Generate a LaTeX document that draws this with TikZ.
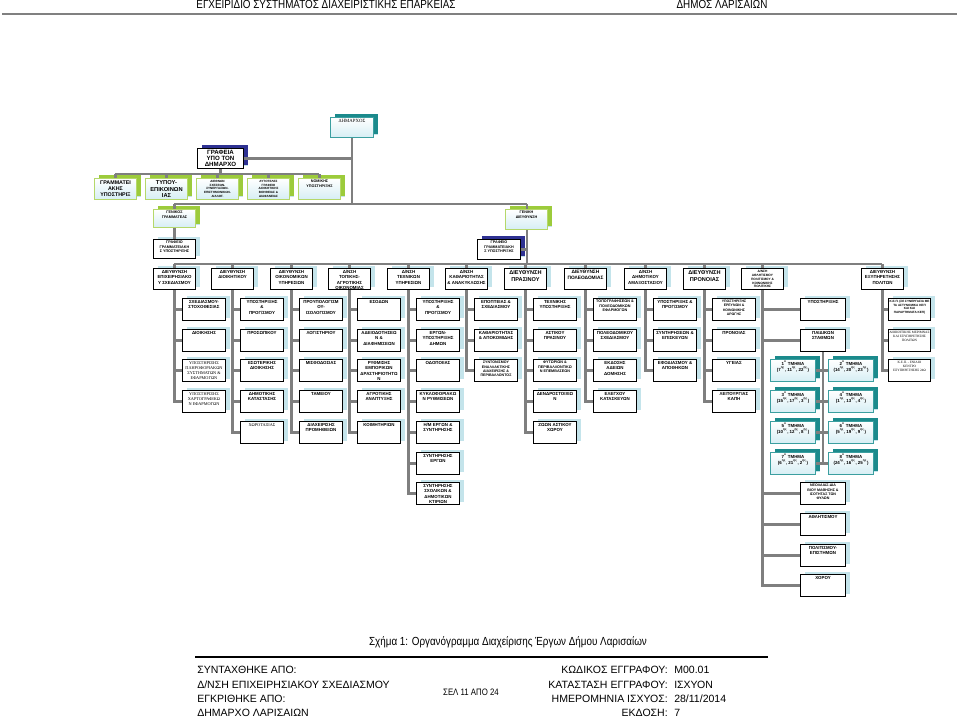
\documentclass[tikz,border=0pt]{standalone}
\usepackage{fontspec}
\setmainfont{Liberation Sans}
\newfontfamily\srf{Liberation Serif}
\newfontfamily\nrw[FakeStretch=0.84]{Liberation Sans}
\usetikzlibrary{shadows}
\definecolor{conncol}{HTML}{7F7F7F}
\definecolor{shblue}{HTML}{C4E4EB}
\definecolor{navy}{HTML}{2E3192}
\definecolor{teal2}{HTML}{1B8A8C}
\definecolor{tealb}{HTML}{3B9FA0}
\definecolor{lime2}{HTML}{9CCB3B}
\definecolor{limeb}{HTML}{B5D86A}
\definecolor{lfill}{HTML}{D6EEF4}
\newcommand\bt[3]{\vbox to #2{\vskip0.9pt\hbox to #1{\hss\begin{tabular}[t]{@{}c@{}}#3\end{tabular}\hss}\vss}}
\newcommand\fs[2]{\fontsize{#1}{#2}\selectfont}
\tikzset{
 conn/.style={draw=conncol, line width=2pt},
 ubox/.style={draw=black, line width=0.75pt, fill=white, inner sep=0pt, anchor=north west,
   font=\fs{3.3}{4}\bfseries,
   drop shadow={shadow xshift=3.5pt, shadow yshift=2.2pt, fill=shblue, opacity=1}},
 serif/.style={font=\fs{3.2}{3.9}\srf},
 navysh/.style={drop shadow={shadow xshift=3.5pt, shadow yshift=3pt, fill=navy, opacity=1}},
 greenbox/.style={draw=limeb, top color=white, bottom color=lfill,
   drop shadow={shadow xshift=3pt, shadow yshift=2.5pt, fill=lime2, opacity=1}},
 tealbox/.style={draw=tealb, top color=white, bottom color=lfill,
   drop shadow={shadow xshift=3.5pt, shadow yshift=2.5pt, fill=teal2, opacity=1}},
 foot/.style={font=\fs{7.9}{9}, inner sep=0pt},
}
% sub box: [style]{name}{left}{top}{text}
\newcommand\sbx[5][]{\node[ubox,#1] (#2) at (#3,#4) {\bt{32.25pt}{16.5pt}{#5}};}
% directorate: [style]{name}{center}{text}
\newcommand\dbx[4][]{\node[ubox,#1] (#2) at ({#3-21},268) {\bt{31.5pt}{15.75pt}{#4}};}
\newcommand\kid[2]{\draw[conn] (#1.south |- #2.west) -- (#2.west);}
\newcommand\spine[2]{\draw[conn] (#1.south) |- (#2.west);}
\begin{document}
\begin{tikzpicture}[x=0.75pt,y=-0.75pt]
\useasboundingbox (0,0) rectangle (959,717);
\fill[white] (0,0) rectangle (959,717);
% header
\node[font=\fs{8.8}{10}\nrw, inner sep=0pt, anchor=base] (h1) at (326,9) {ΕΓΧΕΙΡΙΔΙΟ ΣΥΣΤΗΜΑΤΟΣ ΔΙΑΧΕΙΡΙΣΤΙΚΗΣ ΕΠΑΡΚΕΙΑΣ};
\node[font=\fs{8.8}{10}\nrw, inner sep=0pt, anchor=base] (h2) at (722,9) {ΔΗΜΟΣ ΛΑΡΙΣΑΙΩΝ};
\coordinate (hl1) at (2,14); \coordinate (hl2) at (957,14);
\draw[draw=gray, line width=1pt] (hl1) -- (hl2);

% top
\node[ubox, tealbox, font=\fs{3.6}{4.2}\srf] (dim) at (330,117) {\bt{32.25pt}{15pt}{ΔΗΜΑΡΧΟΣ}};
\node[ubox, navysh, font=\fs{4.6}{4.8}\bfseries] (graf) at (197,148) {\bt{34.5pt}{15pt}{ΓΡΑΦΕΙΑ\\ΥΠΟ ΤΟΝ\\ΔΗΜΑΡΧΟ}};
\node[ubox, greenbox, font=\fs{4}{4.8}\bfseries] (g1) at (94,178) {\bt{31.5pt}{15.75pt}{ΓΡΑΜΜΑΤΕΙ\\ΑΚΗΣ\\ΥΠΟΣΤΗΡΙΞ}};
\node[ubox, greenbox, font=\fs{4.3}{5}\bfseries] (g2) at (145,178) {\bt{31.5pt}{15.75pt}{ΤΥΠΟΥ-\\ΕΠΙΚΟΙΝΩΝ\\ΙΑΣ}};
\node[ubox, greenbox, font=\fs{2.3}{2.8}\bfseries] (g3) at (196,178) {\bt{31.5pt}{15.75pt}{ΔΙΕΘΝΩΝ\\ΣΧΕΣΕΩΝ-\\ΣΥΝΕΡΓΑΣΙΩΝ-\\ΕΠΙΣΤΗΜΟΝΙΚΩΝ-\\ΔΙΑΛΟΓ.}};
\node[ubox, greenbox, font=\fs{2.3}{2.8}\bfseries] (g4) at (247,178) {\bt{31.5pt}{15.75pt}{ΑΥΤΟΤΕΛΕΣ\\ΓΡΑΦΕΙΟ\\ΔΙΟΙΚΗΤΙΚΗΣ\\ΒΟΗΘΕΙΑΣ \&\\ΔΙΑΦΑΝΕΙΑΣ}};
\node[ubox, greenbox, font=\fs{2.8}{3.4}\bfseries] (g5) at (298,178) {\bt{31.5pt}{15.75pt}{ΝΟΜΙΚΗΣ\\ΥΠΟΣΤΗΡΙΞΗΣ}};
\node[ubox, greenbox, font=\fs{2.8}{3.4}\bfseries] (gg) at (153,209) {\bt{31.5pt}{13.5pt}{ΓΕΝΙΚΟΣ\\ΓΡΑΜΜΑΤΕΑΣ}};
\node[ubox, greenbox, font=\fs{2.8}{3.4}\bfseries] (gd) at (505,209) {\bt{31.5pt}{15pt}{ΓΕΝΙΚΗ\\ΔΙΕΥΘΥΝΣΗ}};
\node[ubox, font=\fs{2.8}{3.4}\bfseries] (gr1) at (153,239) {\bt{31.5pt}{14.25pt}{ΓΡΑΦΕΙΟ\\ΓΡΑΜΜΑΤΕΙΑΚΗ\\Σ ΥΠΟΣΤΗΡΙΞΗΣ}};
\node[ubox, navysh, font=\fs{2.8}{3.4}\bfseries] (gr2) at (477,239) {\bt{32.25pt}{15pt}{ΓΡΑΦΕΙΟ\\ΓΡΑΜΜΑΤΕΙΑΚΗ\\Σ ΥΠΟΣΤΗΡΙΞΗΣ}};

\coordinate (b0L) at (174,204); \coordinate (b0R) at (527,204);
\coordinate (b2L) at (115,174); \coordinate (b2R) at (319,174);
\coordinate (b1L) at (174,264); \coordinate (b1R) at (882,264);

% directorates
\dbx{d0}{174}{ΔΙΕΥΘΥΝΣΗ\\ΕΠΙΧΕΙΡΗΣΙΑΚΟ\\Υ ΣΧΕΔΙΑΣΜΟΥ}
\dbx{d1}{232}{ΔΙΕΥΘΥΝΣΗ\\ΔΙΟΙΚΗΤΙΚΟΥ}
\dbx{d2}{291}{ΔΙΕΥΘΥΝΣΗ\\ΟΙΚΟΝΟΜΙΚΩΝ\\ΥΠΗΡΕΣΙΩΝ}
\dbx{d3}{349}{Δ/ΝΣΗ\\ΤΟΠΙΚΗΣ-\\ΑΓΡΟΤΙΚΗΣ\\ΟΙΚΟΝΟΜΙΑΣ}
\dbx{d4}{408}{Δ/ΝΣΗ\\ΤΕΧΝΙΚΩΝ\\ΥΠΗΡΕΣΙΩΝ}
\dbx{d5}{466}{Δ/ΝΣΗ\\ΚΑΘΑΡΙΟΤΗΤΑΣ\\\& ΑΝΑΚΥΚΛΩΣΗΣ}
\dbx[font=\fs{4.2}{5}\bfseries]{d6}{525}{ΔΙΕΥΘΥΝΣΗ\\ΠΡΑΣΙΝΟΥ}
\dbx[font=\fs{3.6}{4.4}\bfseries]{d7}{585}{ΔΙΕΥΘΥΝΣΗ\\ΠΟΛΕΟΔΟΜΙΑΣ}
\dbx{d8}{645}{Δ/ΝΣΗ\\ΔΗΜΟΤΙΚΟΥ\\ΑΜΑΞΟΣΤΑΣΙΟΥ}
\dbx[font=\fs{4.2}{5}\bfseries]{d9}{704}{ΔΙΕΥΘΥΝΣΗ\\ΠΡΟΝΟΙΑΣ}
\dbx[font=\fs{2.4}{2.9}\bfseries]{d10}{762}{Δ/ΝΣΗ\\ΑΘΛΗΤΙΣΜΟΥ\\ΠΟΛΙΤΙΣΜΟΥ \&\\ΚΟΙΝΩΝΙΚΗΣ\\ΠΟΛΙΤΙΚΗΣ}
\dbx{d12}{882}{ΔΙΕΥΘΥΝΣΗ\\ΕΞΥΠΗΡΕΤΗΣΗΣ\\ΠΟΛΙΤΩΝ}

% col 0
\sbx{c0r1}{182}{298}{ΣΧΕΔΙΑΣΜΟΥ-\\ΣΤΟΧΟΘΕΣΙΑΣ}
\sbx{c0r2}{182}{329}{ΔΙΟΙΚΗΣΗΣ}
\sbx[serif]{c0r3}{182}{359}{ΥΠΟΣΤΗΡΙΞΗΣ\\ΠΛΗΡΟΦΟΡΙΑΚΩΝ\\ΣΥΣΤΗΜΑΤΩΝ \&\\ΕΦΑΡΜΟΓΩΝ}
\sbx[serif]{c0r4}{182}{390}{ΥΠΟΣΤΗΡΙΞΗΣ\\ΧΑΡΤΟΓΡΑΦΙΚΩ\\Ν ΕΦΑΡΜΟΓΩΝ}
% col 1
\sbx{c1r1}{240}{298}{ΥΠΟΣΤΗΡΙΞΗΣ\\\&\\ΠΡΟΓ/ΣΜΟΥ}
\sbx{c1r2}{240}{329}{ΠΡΟΣΩΠΙΚΟΥ}
\sbx{c1r3}{240}{359}{ΕΣΩΤΕΡΙΚΗΣ\\ΔΙΟΙΚΗΣΗΣ}
\sbx{c1r4}{240}{390}{ΔΗΜΟΤΙΚΗΣ\\ΚΑΤΑΣΤΑΣΗΣ}
\sbx[serif]{c1r5}{240}{421}{ΧΩΡΟΤΑΞΙΑΣ}
% col 2
\sbx{c2r1}{299}{298}{ΠΡΟΥΠΟΛΟΓΙΣΜ\\ΟΥ-\\ΙΣΟΛΟΓΙΣΜΟΥ}
\sbx{c2r2}{299}{329}{ΛΟΓΙΣΤΗΡΙΟΥ}
\sbx{c2r3}{299}{359}{ΜΙΣΘΟΔΟΣΙΑΣ}
\sbx{c2r4}{299}{390}{ΤΑΜΕΙΟΥ}
\sbx{c2r5}{299}{421}{ΔΙΑΧΕΙΡΙΣΗΣ\\ΠΡΟΜΗΘΕΙΩΝ}
% col 3
\sbx{c3r1}{357}{298}{ΕΣΟΔΩΝ}
\sbx{c3r2}{357}{329}{ΑΔΕΙΟΔΟΤΗΣΕΩ\\Ν \&\\ΔΙΑΦΗΜΙΣΕΩΝ}
\sbx{c3r3}{357}{359}{ΡΥΘΜΙΣΗΣ\\ΕΜΠΟΡΙΚΩΝ\\ΔΡΑΣΤΗΡΙΟΤΗΤΩ\\Ν}
\sbx{c3r4}{357}{390}{ΑΓΡΟΤΙΚΗΣ\\ΑΝΑΠΤΥΞΗΣ}
\sbx{c3r5}{357}{421}{ΚΟΙΜΗΤΗΡΙΩΝ}
% col 4
\sbx{c4r1}{416}{298}{ΥΠΟΣΤΗΡΙΞΗΣ\\\&\\ΠΡΟΓ/ΣΜΟΥ}
\sbx{c4r2}{416}{329}{ΕΡΓΩΝ-\\ΥΠΟΣΤΗΡΙΞΗΣ\\ΔΗΜΩΝ}
\sbx{c4r3}{416}{359}{ΟΔΟΠΟΙΙΑΣ}
\sbx{c4r4}{416}{390}{ΚΥΚΛΟΦΟΡΙΑΚΩ\\Ν ΡΥΘΜΙΣΕΩΝ}
\sbx{c4r5}{416}{421}{Η/Μ ΕΡΓΩΝ \&\\ΣΥΝΤΗΡΗΣΗΣ}
\sbx{c4r6}{416}{452}{ΣΥΝΤΗΡΗΣΗΣ\\ΕΡΓΩΝ}
\sbx{c4r7}{416}{482}{ΣΥΝΤΗΡΗΣΗΣ\\ΣΧΟΛΙΚΩΝ \&\\ΔΗΜΟΤΙΚΩΝ\\ΚΤΙΡΙΩΝ}
% col 5
\sbx{c5r1}{474}{298}{ΕΠΟΠΤΕΙΑΣ \&\\ΣΧΕΔΙΑΣΜΟΥ}
\sbx{c5r2}{474}{329}{ΚΑΘΑΡΙΟΤΗΤΑΣ\\\& ΑΠΟΚΟΜΙΔΗΣ}
\sbx[font=\fs{2.7}{3.3}\bfseries]{c5r3}{474}{359}{ΣΥΝΤΟΝΙΣΜΟΥ\\ΕΝΑΛΛΑΚΤΙΚΗΣ\\ΔΙΑΧΕΙΡΙΣΗΣ \&\\ΠΕΡΙΒΑΛΛΟΝΤΟΣ}
% col 6
\sbx{c6r1}{533}{298}{ΤΕΧΝΙΚΗΣ\\ΥΠΟΣΤΗΡΙΞΗΣ}
\sbx{c6r2}{533}{329}{ΑΣΤΙΚΟΥ\\ΠΡΑΣΙΝΟΥ}
\sbx[font=\fs{2.8}{3.4}\bfseries]{c6r3}{533}{359}{ΦΥΤΩΡΙΩΝ \&\\ΠΕΡΙΒΑΛΛΟΝΤΙΚΩ\\Ν ΕΠΕΜΒΑΣΕΩΝ}
\sbx{c6r4}{533}{390}{ΔΕΝΔΡΟΣΤΟΙΧΙΩ\\Ν}
\sbx{c6r5}{533}{421}{ΖΩΩΝ ΑΣΤΙΚΟΥ\\ΧΩΡΟΥ}
% col 7
\sbx[font=\fs{2.8}{3.4}\bfseries]{c7r1}{593}{298}{ΤΟΠΟΓΡΑΦΗΣΕΩΝ \&\\ΠΟΛΕΟΔΟΜΙΚΩΝ\\ΕΦΑΡΜΟΓΩΝ}
\sbx{c7r2}{593}{329}{ΠΟΛΕΟΔΟΜΙΚΟΥ\\ΣΧΕΔΙΑΣΜΟΥ}
\sbx{c7r3}{593}{359}{ΕΚΔΟΣΗΣ\\ΑΔΕΙΩΝ\\ΔΟΜΗΣΗΣ}
\sbx{c7r4}{593}{390}{ΕΛΕΓΧΟΥ\\ΚΑΤΑΣΚΕΥΩΝ}
% col 8
\sbx{c8r1}{653}{298}{ΥΠΟΣΤΗΡΙΞΗΣ \&\\ΠΡΟΓ/ΣΜΟΥ}
\sbx{c8r2}{653}{329}{ΣΥΝΤΗΡΗΣΕΩΝ \&\\ΕΠΙΣΚΕΥΩΝ}
\sbx{c8r3}{653}{359}{ΕΦΟΔΙΑΣΜΟΥ \&\\ΑΠΟΘΗΚΩΝ}
% col 9
\sbx[font=\fs{2.6}{3.2}\bfseries]{c9r1}{712}{298}{ΥΠΟΣΤΗΡΙΞΗΣ\\ΕΡΕΥΝΩΝ \&\\ΚΟΙΝΩΝΙΚΗΣ\\ΑΡΩΓΗΣ}
\sbx{c9r2}{712}{329}{ΠΡΟΝΟΙΑΣ}
\sbx{c9r3}{712}{359}{ΥΓΕΙΑΣ}
\sbx{c9r4}{712}{390}{ΛΕΙΤΟΥΡΓΙΑΣ\\ΚΑΠΗ}
% col 10
\newcommand\tbx[5][]{\node[ubox,#1] (#2) at (#3,#4) {\bt{33.75pt}{16.5pt}{#5}};}
\tbx{c10r1}{800}{298}{ΥΠΟΣΤΗΡΙΞΗΣ}
\tbx{c10r2}{800}{329}{ΠΑΙΔΙΚΩΝ\\ΣΤΑΘΜΩΝ}
\tbx[font=\fs{2.7}{3.3}\bfseries]{c10r7}{800}{482}{ΝΕΟΛΑΙΑΣ-ΔΙΑ\\ΒΙΟΥ ΜΑΘΗΣΗΣ \&\\ΙΣΟΤΗΤΑΣ ΤΩΝ\\ΦΥΛΩΝ}
\tbx{c10r8}{800}{513}{ΑΘΛΗΤΙΣΜΟΥ}
\tbx{c10r9}{800}{544}{ΠΟΛΙΤΙΣΜΟΥ-\\ΕΠΙΣΤΗΜΩΝ}
\tbx{c10r10}{800}{574}{ΧΟΡΟΥ}
\tbx[tealbox]{t1}{770}{359}{1\textsuperscript{ο} ΤΜΗΜΑ\\(7\textsuperscript{ης}, 11\textsuperscript{ης}, 22\textsuperscript{ης})}
\tbx[tealbox]{t2}{828}{359}{2\textsuperscript{ο} ΤΜΗΜΑ\\(14\textsuperscript{ης}, 20\textsuperscript{ης}, 23\textsuperscript{ης})}
\tbx[tealbox]{t3}{770}{390}{3\textsuperscript{ο} ΤΜΗΜΑ\\(15\textsuperscript{ης}, 17\textsuperscript{ης}, 3\textsuperscript{ης})}
\tbx[tealbox]{t4}{828}{390}{4\textsuperscript{ο} ΤΜΗΜΑ\\(1\textsuperscript{ης}, 13\textsuperscript{ης}, 4\textsuperscript{ης})}
\tbx[tealbox]{t5}{770}{421}{5\textsuperscript{ο} ΤΜΗΜΑ\\(10\textsuperscript{ης}, 12\textsuperscript{ης}, 8\textsuperscript{ης})}
\tbx[tealbox]{t6}{828}{421}{6\textsuperscript{ο} ΤΜΗΜΑ\\(5\textsuperscript{ης}, 19\textsuperscript{ης}, 9\textsuperscript{ης})}
\tbx[tealbox]{t7}{770}{452}{7\textsuperscript{ο} ΤΜΗΜΑ\\(6\textsuperscript{ης}, 21\textsuperscript{ης}, 2\textsuperscript{ης})}
\tbx[tealbox]{t8}{828}{452}{8\textsuperscript{ο} ΤΜΗΜΑ\\(24\textsuperscript{ης}, 16\textsuperscript{ης}, 25\textsuperscript{ης})}
% col 12
\node[ubox, font=\fs{2.3}{2.8}\bfseries] (c12r1) at (888,298) {\bt{31.5pt}{16.5pt}{Κ.Ε.Π. (ΣΕ ΣΥΝΕΡΓΑΣΙΑ ΜΕ\\ΤΑ ΑΣΤΥΝΟΜΙΚΑ ΚΕΠ\\ΚΑΙ ΚΑΙ\\ΠΑΡΑΡΤΗΜΑΤΑ ΚΕΠ)}};
\node[ubox, font=\fs{2.5}{3}\srf] (c12r2) at (888,329) {\bt{31.5pt}{16.5pt}{ΔΙΟΙΚΗΤΙΚΗΣ ΜΕΡΙΜΝΑΣ\\ΚΑΙ ΕΞΥΠΗΡΕΤΗΣΗΣ\\ΠΟΛΙΤΩΝ}};
\node[ubox, font=\fs{2.5}{3}\srf] (c12r3) at (888,359) {\bt{31.5pt}{16.5pt}{Κ.Ε.Π. - ΕΝΙΑΙΟ\\ΚΕΝΤΡΟ\\ΕΞΥΠΗΡΕΤΗΣΗΣ 24Ω}};

% connectors top
\draw[conn] (dim.south) -- (dim.south |- b0L);
\draw[conn] (graf.east) -- (graf.east -| dim.south);
\draw[conn] (b0L) -- (b0R);
\draw[conn] (gg.north |- b0L) -- (gg.north);
\draw[conn] (b0R) -- (b0R |- gd.north);
\draw[conn] (graf.south) -- (graf.south |- b2L);
\draw[conn] (b2L) -- (b2R);
\foreach \g in {g1,g2,g3,g4,g5} {\draw[conn] (\g.north |- b2L) -- (\g.north);}
\draw[conn] (gg.south) -- (gr1.north);
\draw[conn] (b0R |- gd.south) -- (b0R |- b1L);
\draw[conn] (gr2.east) -- (gr2.east -| b0R);
\draw[conn] (b1L) -- (b1R);
\foreach \d in {d0,d1,d2,d3,d4,d5,d6,d7,d8,d9,d10,d12} {\draw[conn] (\d.north |- b1L) -- (\d.north);}
% columns
\spine{d0}{c0r4} \kid{d0}{c0r1} \kid{d0}{c0r2} \kid{d0}{c0r3}
\spine{d1}{c1r5} \kid{d1}{c1r1} \kid{d1}{c1r2} \kid{d1}{c1r3} \kid{d1}{c1r4}
\spine{d2}{c2r5} \kid{d2}{c2r1} \kid{d2}{c2r2} \kid{d2}{c2r3} \kid{d2}{c2r4}
\spine{d3}{c3r5} \kid{d3}{c3r1} \kid{d3}{c3r2} \kid{d3}{c3r3} \kid{d3}{c3r4}
\spine{d4}{c4r7} \kid{d4}{c4r1} \kid{d4}{c4r2} \kid{d4}{c4r3} \kid{d4}{c4r4} \kid{d4}{c4r5} \kid{d4}{c4r6}
\spine{d5}{c5r3} \kid{d5}{c5r1} \kid{d5}{c5r2}
\spine{d6}{c6r5} \kid{d6}{c6r1} \kid{d6}{c6r2} \kid{d6}{c6r3} \kid{d6}{c6r4}
\spine{d7}{c7r4} \kid{d7}{c7r1} \kid{d7}{c7r2} \kid{d7}{c7r3}
\spine{d8}{c8r3} \kid{d8}{c8r1} \kid{d8}{c8r2}
\spine{d9}{c9r4} \kid{d9}{c9r1} \kid{d9}{c9r2} \kid{d9}{c9r3}
\spine{d10}{c10r10} \kid{d10}{c10r1} \kid{d10}{c10r2} \kid{d10}{c10r7} \kid{d10}{c10r8} \kid{d10}{c10r9}
\spine{d12}{c12r3} \kid{d12}{c12r1} \kid{d12}{c12r2}
\draw[conn] (c10r2.south) -- (c10r2.south |- t7.east);
\draw[conn] (t1.east) -- (t2.west); \draw[conn] (t3.east) -- (t4.west);
\draw[conn] (t5.east) -- (t6.west); \draw[conn] (t7.east) -- (t8.west);

% caption and footer
\node[font=\fs{8.8}{10}\nrw, inner sep=0pt, anchor=base] (cap) at (508,645) {Σχήμα 1: Οργανόγραμμα Διαχείρισης Έργων Δήμου Λαρισαίων};
\coordinate (fl1) at (195,657); \coordinate (fl2) at (768,657);
\draw[line width=1.4pt] (fl1) -- (fl2);
\node[foot, anchor=base west] (f1) at (197,673) {ΣΥΝΤΑΧΘΗΚΕ ΑΠΟ:};
\node[foot, anchor=base west] (f2) at (197,688) {Δ/ΝΣΗ ΕΠΙΧΕΙΡΗΣΙΑΚΟΥ ΣΧΕΔΙΑΣΜΟΥ};
\node[foot, anchor=base west] (f3) at (197,702) {ΕΓΚΡΙΘΗΚΕ ΑΠΟ:};
\node[foot, anchor=base west] (f4) at (197,716) {ΔΗΜΑΡΧΟ ΛΑΡΙΣΑΙΩΝ};
\node[font=\fs{7}{8}\nrw, inner sep=0pt, anchor=base] (sel) at (471,695) {ΣΕΛ 11 ΑΠΟ 24};
\node[foot, anchor=base east] (k1) at (668,673) {ΚΩΔΙΚΟΣ ΕΓΓΡΑΦΟΥ:};
\node[foot, anchor=base east] (k2) at (668,688) {ΚΑΤΑΣΤΑΣΗ ΕΓΓΡΑΦΟΥ:};
\node[foot, anchor=base east] (k3) at (668,702) {ΗΜΕΡΟΜΗΝΙΑ ΙΣΧΥΟΣ:};
\node[foot, anchor=base east] (k4) at (668,716) {ΕΚΔΟΣΗ:};
\node[foot, anchor=base west] (v1) at (674,673) {Μ00.01};
\node[foot, anchor=base west] (v2) at (674,688) {ΙΣΧΥΟΝ};
\node[foot, anchor=base west] (v3) at (674,702) {28/11/2014};
\node[foot, anchor=base west] (v4) at (674,716) {7};
\end{tikzpicture}
\end{document}
